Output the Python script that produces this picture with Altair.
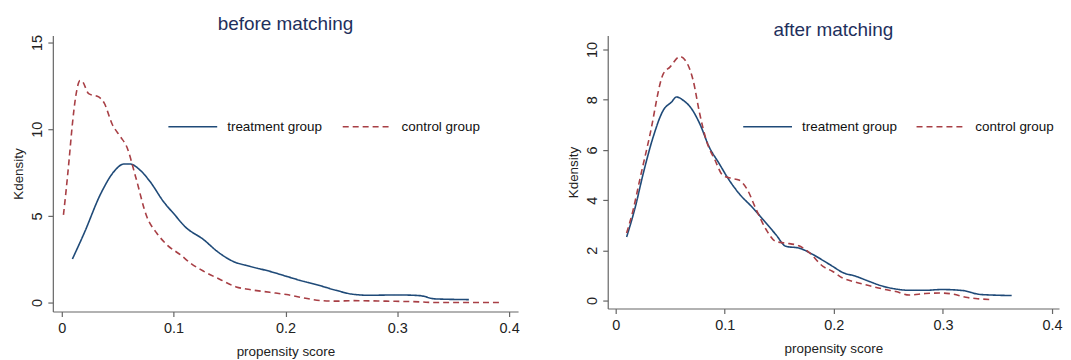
import altair as alt
import pandas as pd

# ---- data ----
before_treat_x = [0.0095, 0.020, 0.035, 0.0466, 0.0555, 0.061, 0.070, 0.079, 0.091, 0.101, 0.110, 0.127,
                  0.139, 0.153, 0.168, 0.186, 0.201, 0.213, 0.228, 0.245, 0.260, 0.275, 0.300, 0.320, 0.334, 0.364]
before_treat_y = [2.51, 4.0, 6.3, 7.55, 7.99, 7.99, 7.64, 6.97, 5.82, 5.06, 4.39, 3.62,
                  2.95, 2.38, 2.09, 1.80, 1.51, 1.28, 1.03, 0.71, 0.48, 0.42, 0.44, 0.40, 0.21, 0.17]

before_ctrl_x = [0.0015, 0.0036, 0.0065, 0.0095, 0.0125, 0.0163, 0.018, 0.024, 0.033, 0.038, 0.045, 0.0525,
                 0.058, 0.066, 0.076, 0.085, 0.094, 0.106, 0.115, 0.127, 0.142, 0.156, 0.168, 0.186, 0.201,
                 0.216, 0.234, 0.245, 0.260, 0.290, 0.320, 0.334, 0.364, 0.392]
before_ctrl_y = [5.06, 6.3, 8.2, 10.3, 11.9, 12.8, 12.78, 12.05, 11.86, 11.5, 10.3, 9.56,
                 9.0, 7.26, 4.96, 4.0, 3.33, 2.76, 2.28, 1.80, 1.32, 0.90, 0.75, 0.59, 0.46,
                 0.27, 0.10, 0.08, 0.11, 0.08, 0.04, 0.0, 0.0, 0.0]

after_treat_x = [0.010, 0.0177, 0.0253, 0.0344, 0.0436, 0.0512, 0.0557, 0.0618, 0.0694, 0.077, 0.0857,
                 0.0948, 0.104, 0.113, 0.126, 0.138, 0.147, 0.156, 0.168, 0.181, 0.190, 0.199, 0.208,
                 0.220, 0.232, 0.245, 0.257, 0.269, 0.284, 0.299, 0.318, 0.333, 0.345, 0.363]
after_treat_y = [2.53, 3.68, 5.07, 6.52, 7.58, 7.91, 8.11, 7.98, 7.65, 7.05, 6.12,
                 5.46, 4.80, 4.27, 3.68, 3.08, 2.62, 2.16, 2.09, 1.83, 1.60, 1.36, 1.12,
                 0.97, 0.77, 0.57, 0.46, 0.41, 0.41, 0.44, 0.40, 0.25, 0.22, 0.20]

after_ctrl_x = [0.010, 0.016, 0.022, 0.031, 0.0436, 0.0497, 0.0588, 0.0649, 0.071, 0.077, 0.083, 0.091,
                0.098, 0.106, 0.113, 0.120, 0.129, 0.138, 0.147, 0.156, 0.168, 0.178, 0.190, 0.199,
                0.208, 0.220, 0.232, 0.245, 0.257, 0.269, 0.284, 0.299, 0.309, 0.321, 0.330, 0.344]
after_ctrl_y = [2.69, 3.61, 4.80, 6.52, 9.03, 9.30, 9.72, 9.50, 8.77, 7.45, 6.39, 5.60,
                5.00, 4.87, 4.80, 4.47, 3.61, 2.82, 2.35, 2.29, 2.18, 1.89, 1.36, 1.16,
                0.90, 0.73, 0.60, 0.46, 0.36, 0.22, 0.28, 0.30, 0.26, 0.13, 0.08, 0.04]

groups = ["treatment group", "control group"]
x_ticks = [0, 0.1, 0.2, 0.3, 0.4]


def frame(tx, ty, cx, cy):
    rows = [{"x": a, "y": b, "g": groups[0], "o": i} for i, (a, b) in enumerate(zip(tx, ty))]
    rows += [{"x": a, "y": b, "g": groups[1], "o": i} for i, (a, b) in enumerate(zip(cx, cy))]
    return pd.DataFrame(rows)


FONT = "Liberation Sans"
NAVY = "#1f4a78"
MAROON = "#a83f45"


def panel(df, title, xdom, ydom, yticks, w, h, lx, ly, colpad, toff):
    color = alt.Color("g:N", scale=alt.Scale(domain=groups, range=[NAVY, MAROON]),
                      legend=alt.Legend(orient="none", legendX=lx, legendY=ly, direction="horizontal",
                                        title=None, symbolType="stroke", symbolSize=2401,
                                        symbolStrokeWidth=1.6, labelFontSize=13.5, labelFont=FONT,
                                        labelColor="#111", labelOffset=9, columnPadding=colpad))
    dash = alt.StrokeDash("g:N", scale=alt.Scale(domain=groups, range=[[1, 0], [6, 4]]),
                          legend=None)
    return alt.Chart(df).mark_line(strokeWidth=1.6, interpolate="monotone").encode(
        x=alt.X("x:Q", scale=alt.Scale(domain=xdom, nice=False, zero=False),
                axis=alt.Axis(values=x_ticks, title="propensity score", format=".1~f")),
        y=alt.Y("y:Q", scale=alt.Scale(domain=ydom, nice=False, zero=False),
                axis=alt.Axis(values=yticks, title="Kdensity", labelAngle=270, format="d")),
        color=color,
        strokeDash=dash,
        order="o:Q",
    ).properties(width=w, height=h,
                 title=alt.TitleParams(title, fontSize=19, font=FONT, color="#1e2f5c",
                                       fontWeight="normal", offset=toff))


left = panel(frame(before_treat_x, before_treat_y, before_ctrl_x, before_ctrl_y),
             "before matching", [-0.008, 0.408], [-0.517, 15.4], [0, 5, 10, 15],
             467, 277, 115, 66, 16, 0)
right = panel(frame(after_treat_x, after_treat_y, after_ctrl_x, after_ctrl_y),
              "after matching", [-0.0073, 0.4064], [-0.317, 10.556], [0, 2, 4, 6, 8, 10],
              453, 274, 135, 66, 15, -4)

chart = alt.hconcat(left, right, spacing=47).resolve_scale(
    color="independent", strokeDash="independent", x="independent", y="independent"
).configure(
    padding={"left": 4, "top": 6, "right": 0, "bottom": 0}
).configure_view(stroke=None).configure_axis(
    domainColor="#666", tickColor="#666", grid=False, labelFont=FONT, titleFont=FONT,
    labelFontSize=14.5, titleFontSize=13.5, labelColor="#222", titleColor="#222",
    titleFontWeight="normal", tickSize=5, labelPadding=5, domainWidth=1.2, tickWidth=1.2
).configure_axisY(titlePadding=4, labelPadding=3).configure_axisX(titlePadding=10)

chart.save("out.html", embed_options={"renderer": "svg", "actions": False})
